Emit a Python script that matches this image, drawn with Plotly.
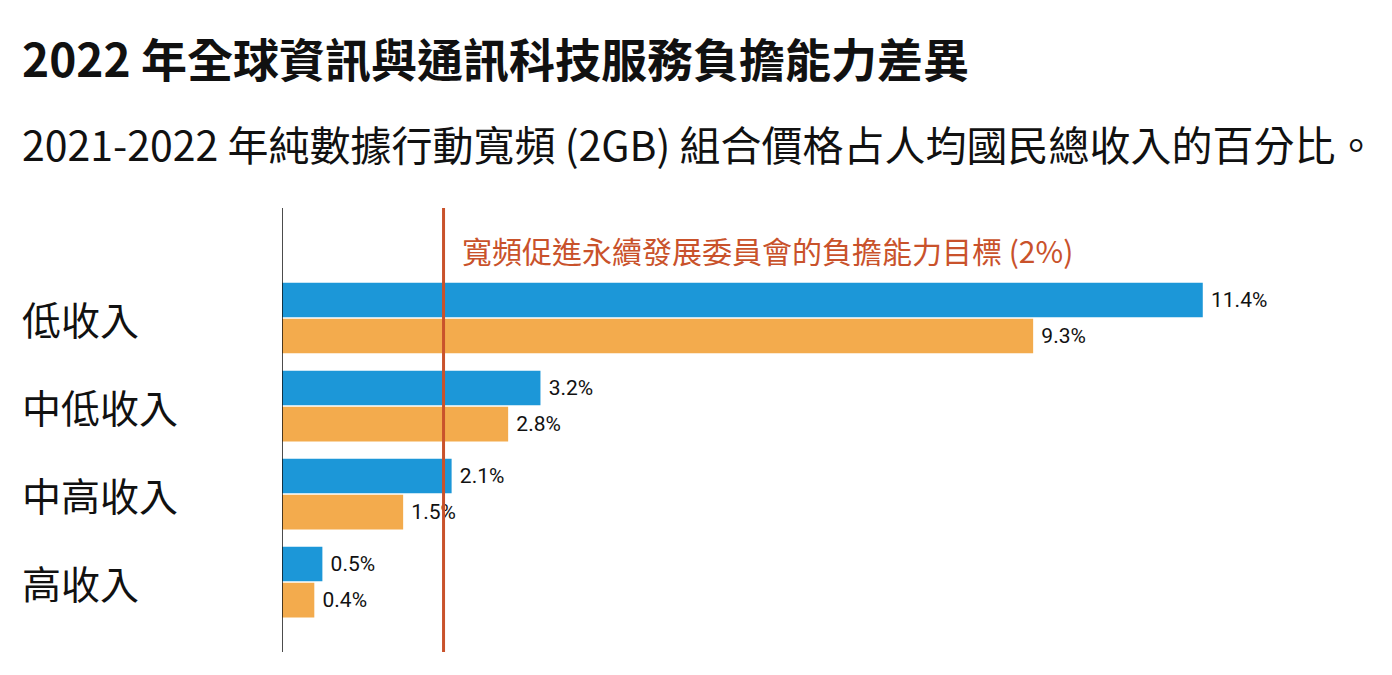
import plotly.graph_objects as go

categories = ["低收入", "中低收入", "中高收入", "高收入"]
values_2021 = [11.4, 3.2, 2.1, 0.5]
values_2022 = [9.3, 2.8, 1.5, 0.4]
target = 2.0

title_text = "2022 年全球資訊與通訊科技服務負擔能力差異"
subtitle_text = "2021-2022 年純數據行動寬頻 (2GB) 組合價格占人均國民總收入的百分比。"
target_label = "寬頻促進永續發展委員會的負擔能力目標 (2%)"

FONT = "Noto Sans CJK TC"
BLUE = "#1C97D8"
ORANGE = "#F3AB4D"
RED = "#C9522B"

pos = list(range(len(categories)))

fig = go.Figure()
for vals, col, name in [(values_2021, BLUE, "2021"), (values_2022, ORANGE, "2022")]:
    fig.add_trace(go.Bar(
        y=pos, x=vals, orientation="h", name=name,
        marker=dict(color=col, line=dict(width=0)),
        texttemplate=" %{x:.1f}%", textposition="outside",
        textfont=dict(family="Liberation Sans Narrow, Roboto", size=21, color="#111111"),
        cliponaxis=False,
    ))

OFF = 8  # page body margin
W, H = 1392, 675
L, T = 282 - OFF, 208 - OFF
pw = 1050
R = W - L - pw
B = H - (652 - OFF)
ph = H - T - B

def px_x(px):
    return (px - OFF - L) / pw

def px_y(py):
    return (H - B - (py - OFF)) / ph

annotations = []
annotations.append(dict(
    text=f"<b>{title_text}</b>", xref="paper", yref="paper",
    x=px_x(20), y=px_y(57), xanchor="left", yanchor="middle",
    showarrow=False, font=dict(family=FONT, size=46, color="#111111"),
))
annotations.append(dict(
    text=subtitle_text, xref="paper", yref="paper",
    x=px_x(20), y=px_y(143), xanchor="left", yanchor="middle",
    showarrow=False, font=dict(family=FONT, size=41, color="#111111"),
))
for p, c in zip(pos, categories):
    annotations.append(dict(
        text=c, xref="paper", yref="y", x=px_x(20), y=p,
        xanchor="left", yanchor="middle", showarrow=False,
        font=dict(family=FONT, size=39, color="#111111"),
    ))
annotations.append(dict(
    text=target_label, xref="x", yref="paper", x=target, y=px_y(250),
    xanchor="left", yanchor="middle", xshift=16, showarrow=False,
    font=dict(family=FONT, size=30, color=RED),
))

fig.update_layout(
    width=W, height=H,
    margin=dict(l=L, r=R, t=T, b=B, pad=0),
    paper_bgcolor="white", plot_bgcolor="white",
    barmode="group", bargap=0.18, bargroupgap=0.04,
    showlegend=False,
    xaxis=dict(range=[0, 13], showticklabels=False, showgrid=False,
               zeroline=False, showline=False, ticks=""),
    yaxis=dict(range=[3.795, -1.25], showticklabels=False, showgrid=False,
               zeroline=False, showline=False, ticks=""),
    annotations=annotations,
    shapes=[
        dict(type="line", xref="x", yref="paper", x0=0, x1=0, y0=0, y1=1,
             line=dict(color="#111111", width=1.5)),
        dict(type="line", xref="x", yref="paper", x0=target, x1=target, y0=0, y1=1,
             line=dict(color=RED, width=3)),
    ],
)

fig.write_html("out.html")
